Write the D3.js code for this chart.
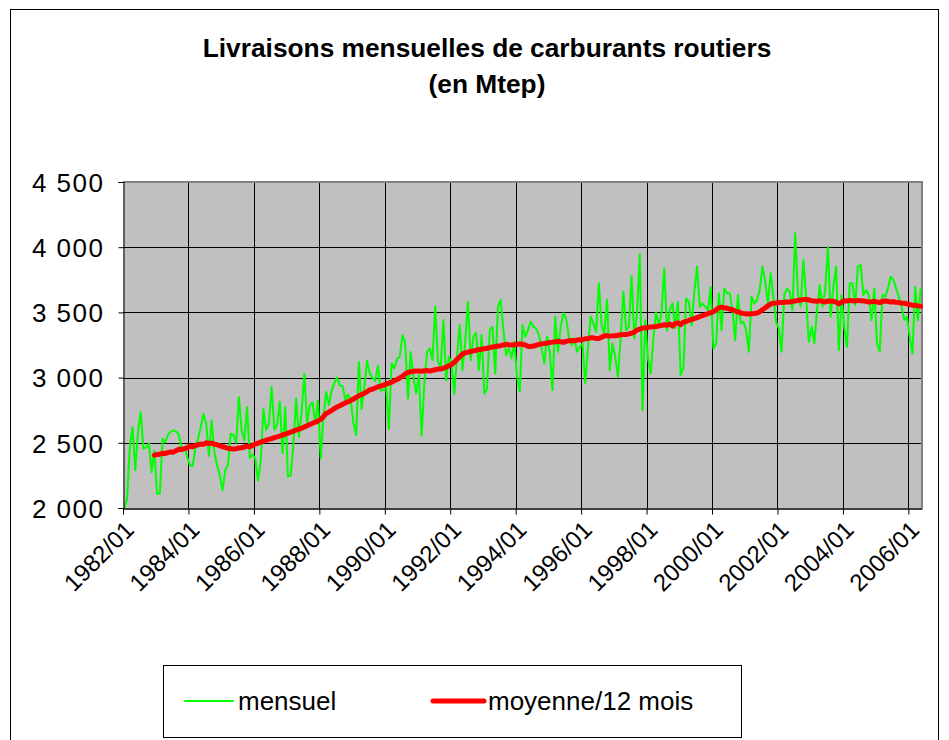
<!DOCTYPE html>
<html><head><meta charset="utf-8">
<script src="https://cdn.jsdelivr.net/npm/d3@7"></script>
<style>body{margin:0;background:#fff}svg{display:block}</style>
</head><body>
<svg id="c" width="949" height="740"></svg>
<script>
// ---- DATA ----
const startYear = 1982;
const monthCount = 293; // 1982/01 .. 2006/05
const mensuel = [
// 1982
2000,2070,2470,2620,2290,2580,2735,2455,2465,2495,2275,2440,
// 1983
2110,2110,2530,2505,2560,2585,2595,2585,2560,2450,2470,2395,
// 1984
2330,2320,2450,2530,2620,2720,2650,2400,2670,2430,2330,2250,
// 1985
2135,2290,2330,2570,2560,2500,2850,2595,2520,2775,2385,2410,
// 1986
2380,2210,2360,2760,2600,2645,2930,2600,2640,2815,2420,2775,
// 1987
2240,2250,2490,2840,2545,2735,3030,2650,2790,2810,2650,2825,
// 1988
2380,2700,2890,2790,2900,2960,3000,2940,2935,2830,2870,2830,
// 1989
2650,2560,3120,2760,2925,3130,3030,3000,2975,3090,2900,2905,
// 1990
2930,2607,3110,3070,3145,3160,3325,3262,2838,3196,3006,2880,
// 1991
3019,2555,2955,3198,3224,3134,3544,3122,3083,3441,2978,3160,
// 1992
3108,2876,3160,3403,3057,3275,3582,3134,3313,3344,3057,3326,
// 1993
2878,2916,3364,3390,3032,3544,3595,3364,3172,3224,3147,3275,
// 1994
3006,2891,3403,3313,3364,3428,3390,3377,3326,3224,3108,3313,
// 1995
3198,2904,3467,3198,3390,3493,3454,3313,3249,3300,3198,3236,
// 1996
3262,2960,3230,3467,3416,3352,3723,3400,3339,3595,3057,3262,
// 1997
3160,3006,3313,3659,3364,3390,3780,3300,3500,3945,2750,3441,
// 1998
3150,3030,3300,3500,3400,3500,3838,3360,3520,3569,3380,3580,
// 1999
3019,3070,3608,3580,3400,3660,3851,3544,3569,3544,3518,3697,
// 2000
3224,3262,3646,3364,3684,3646,3646,3518,3288,3634,3416,3428,
// 2001
3364,3198,3620,3569,3595,3672,3851,3736,3569,3800,3620,3428,
// 2002
3377,3198,3634,3684,3659,3518,4107,3646,3544,3902,3620,3275,
// 2003
3390,3262,3518,3710,3544,3672,4004,3467,3700,3850,3210,3634,
// 2004
3380,3236,3723,3723,3557,3851,3864,3634,3672,3634,3441,3684,
// 2005
3262,3198,3634,3620,3684,3774,3749,3684,3620,3544,3441,3467,
// 2006
3313,3185,3697,3441,3684
];
const moyenneStart = 11; // first value at 1982/12
const moyenne = [
2405,
// 1983
2410,2412,2420,2418,2425,2430,2428,2440,2450,2448,2455,2462,
// 1984
2475,2470,2480,2485,2490,2488,2500,2495,2498,2490,2485,2478,
// 1985
2470,2465,2458,2455,2452,2455,2460,2462,2468,2475,2470,2480,
// 1986
2490,2498,2505,2512,2520,2526,2532,2540,2545,2552,2560,2566,
// 1987
2575,2582,2590,2598,2605,2612,2622,2630,2640,2650,2658,2668,
// 1988
2680,2700,2725,2735,2748,2762,2775,2785,2795,2805,2815,2825,
// 1989
2835,2848,2860,2870,2880,2892,2905,2912,2920,2930,2935,2942,
// 1990
2950,2958,2965,2975,2985,2998,3010,3028,3040,3045,3048,3050,
// 1991
3050,3048,3052,3055,3050,3055,3060,3065,3065,3072,3080,3090,
// 1992
3100,3118,3140,3160,3180,3190,3195,3200,3205,3210,3215,3218,
// 1993
3222,3225,3230,3235,3238,3242,3245,3250,3255,3252,3250,3252,
// 1994
3255,3258,3255,3250,3240,3238,3242,3248,3255,3260,3262,3265,
// 1995
3270,3272,3275,3278,3275,3270,3278,3282,3285,3282,3288,3290,
// 1996
3290,3298,3300,3305,3305,3300,3300,3310,3320,3322,3318,3320,
// 1997
3320,3325,3328,3330,3330,3335,3340,3350,3365,3372,3380,3382,
// 1998
3385,3388,3390,3392,3395,3400,3405,3402,3410,3395,3415,3420,
// 1999
3405,3425,3430,3438,3445,3452,3460,3468,3475,3482,3490,3498,
// 2000
3505,3520,3535,3540,3535,3532,3525,3520,3510,3505,3495,3492,
// 2001
3490,3488,3490,3492,3495,3505,3520,3535,3550,3565,3570,3572,
// 2002
3575,3575,3578,3580,3580,3585,3588,3592,3595,3598,3600,3595,
// 2003
3590,3588,3585,3590,3585,3580,3588,3585,3585,3578,3565,3580,
// 2004
3590,3588,3592,3590,3588,3592,3590,3588,3585,3580,3582,3585,
// 2005
3580,3575,3585,3588,3585,3580,3582,3578,3575,3572,3570,3565,
// 2006
3560,3555,3555,3550,3548
];
const yTicks = [2000, 2500, 3000, 3500, 4000, 4500];
const xTickLabels = ["1982/01","1984/01","1986/01","1988/01","1990/01","1992/01","1994/01","1996/01","1998/01","2000/01","2002/01","2004/01","2006/01"];
const titleLines = ["Livraisons mensuelles de carburants routiers", "(en Mtep)"];
const legendLabels = ["mensuel", "moyenne/12 mois"];

// ---- DRAW ----
const svg = d3.select("#c");
const FONT = "'Liberation Sans', Arial, sans-serif";
const L = 123, R = 922, T = 182, B = 508;

// outer chart frame
svg.append("rect").attr("x", 10.5).attr("y", 9.5).attr("width", 928).attr("height", 760)
  .attr("fill", "#fff").attr("stroke", "#000").attr("stroke-width", 1);

const x = d3.scaleLinear().domain([0, monthCount]).range([L, R]);
const y = d3.scaleLinear().domain([2000, 4500]).range([B, T]);

// plot background
svg.append("rect").attr("x", L).attr("y", T).attr("width", R - L).attr("height", B - T).attr("fill", "#C0C0C0");

// horizontal grid
svg.append("g").selectAll("line").data(yTicks.slice(1)).join("line")
  .attr("x1", L).attr("x2", R).attr("y1", d => Math.round(y(d)) + 0.5).attr("y2", d => Math.round(y(d)) + 0.5)
  .attr("stroke", "#000").attr("stroke-width", 1);
// vertical grid
const xTickIdx = xTickLabels.map((s, k) => k * 24);
svg.append("g").selectAll("line").data(xTickIdx.slice(1)).join("line")
  .attr("x1", d => Math.round(x(d)) + 0.5).attr("x2", d => Math.round(x(d)) + 0.5).attr("y1", T).attr("y2", B)
  .attr("stroke", "#000").attr("stroke-width", 1);

// plot border (top/right gray)
svg.append("path").attr("d", `M${L},${T}H${R}V${B}`).attr("fill", "none").attr("stroke", "#808080").attr("stroke-width", 2);

// series
const lineG = d3.line().x((d, i) => x(i + 0.5)).y(d => y(d));
svg.append("path").datum(mensuel).attr("d", lineG).attr("fill", "none")
  .attr("stroke", "#00FF00").attr("stroke-width", 2).attr("stroke-linejoin", "round");
const lineR = d3.line().x((d, i) => x(i + moyenneStart + 0.5)).y(d => y(d));
svg.append("path").datum(moyenne).attr("d", lineR).attr("fill", "none")
  .attr("stroke", "#FF0000").attr("stroke-width", 5).attr("stroke-linejoin", "round").attr("stroke-linecap", "round");

// axes
const fmt = d => d3.format(",")(d).replace(",", "\u00a0");
const yAxis = d3.axisLeft(y).tickValues(yTicks).tickSize(5).tickPadding(14).tickFormat(fmt);
const gy = svg.append("g").attr("transform", `translate(${L + 0.5},0)`).call(yAxis);
gy.select(".domain").attr("stroke", "#000");
gy.selectAll(".tick line").attr("stroke", "#000");
gy.selectAll("text").attr("font-family", FONT).attr("font-size", 26).attr("letter-spacing", 1.5)
  .attr("fill", "#000").attr("dy", "0.36em");

const xAxisScale = d3.scaleLinear().domain([0, monthCount]).range([L, R]);
const xAxis = d3.axisBottom(xAxisScale).tickValues(xTickIdx).tickSize(6).tickSizeOuter(0)
  .tickFormat((d, k) => xTickLabels[k]);
const gx = svg.append("g").attr("transform", `translate(0,${B + 0.5})`).call(xAxis);
gx.select(".domain").attr("stroke", "#000").attr("stroke-width", 1.5);
gx.selectAll(".tick line").attr("stroke", "#000");
gx.selectAll("text").attr("font-family", FONT).attr("font-size", 24).attr("fill", "#000")
  .attr("text-anchor", "end").attr("transform", "translate(0,11) rotate(-45)").attr("dy", "0.7em").attr("y", 0);

// title
svg.append("g").selectAll("text").data(titleLines).join("text")
  .attr("x", 487).attr("y", (d, i) => 57 + i * 36)
  .attr("text-anchor", "middle").attr("font-family", FONT).attr("font-weight", "bold").attr("font-size", 26.3)
  .text(d => d);

// legend
const lg = svg.append("g");
lg.append("rect").attr("x", 163.5).attr("y", 665.5).attr("width", 578).attr("height", 72)
  .attr("fill", "#fff").attr("stroke", "#000").attr("stroke-width", 1);
const legItems = [
  {label: legendLabels[0], color: "#00FF00", w: 2, x1: 185, x2: 233, tx: 238},
  {label: legendLabels[1], color: "#FF0000", w: 5, x1: 433, x2: 484, tx: 488}
];
legItems.forEach(it => {
  lg.append("line").attr("x1", it.x1).attr("x2", it.x2).attr("y1", 701).attr("y2", 701)
    .attr("stroke", it.color).attr("stroke-width", it.w).attr("stroke-linecap", "round");
  lg.append("text").attr("x", it.tx).attr("y", 710).attr("font-family", FONT).attr("font-size", 26)
    .text(it.label);
});
</script>
</body></html>
